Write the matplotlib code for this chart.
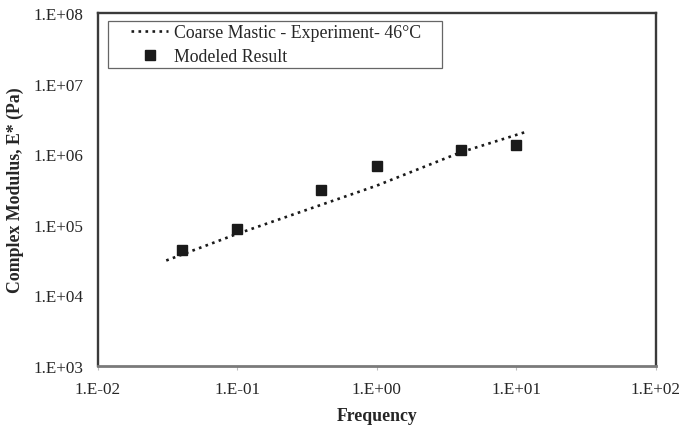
import matplotlib
matplotlib.use("Agg")
import matplotlib.pyplot as plt
from matplotlib.ticker import FixedLocator, NullLocator
from matplotlib.patches import Rectangle

# Experimental curve (dotted) and modeled points
exp_freq = [0.031, 0.1, 1.0, 4.0, 11.9]
exp_modulus = [3.1e4, 7.4e4, 3.57e5, 1.06e6, 2.08e6]

model_freq = [0.04, 0.1, 0.4, 1.0, 4.0, 10.0]
model_modulus = [4.3e4, 8.7e4, 3.1e5, 6.8e5, 1.15e6, 1.36e6]

x_ticks = [1e-2, 1e-1, 1e0, 1e1, 1e2]
x_tick_labels = ["1.E-02", "1.E-01", "1.E+00", "1.E+01", "1.E+02"]
y_ticks = [1e3, 1e4, 1e5, 1e6, 1e7, 1e8]
y_tick_labels = ["1.E+03", "1.E+04", "1.E+05", "1.E+06", "1.E+07", "1.E+08"]

plt.rcParams["font.family"] = ["Liberation Serif", "DejaVu Serif"]

W, H = 683, 431
fig = plt.figure(figsize=(W / 100, H / 100), dpi=100)
ax = fig.add_axes([97.7 / W, 1 - 366.7 / H, (655.7 - 97.7) / W, (366.7 - 14) / H])

ax.plot(exp_freq, exp_modulus, linestyle=":", color="#1a1a1a", linewidth=1.9,
        label="Coarse Mastic - Experiment- 46\u00b0C")
ax.plot(model_freq, model_modulus, linestyle="none", marker="s", markersize=6.5,
        color="#1a1a1a", label="Modeled Result")

ax.set_xscale("log")
ax.set_yscale("log")
ax.set_xlim(1e-2, 1e2)
ax.set_ylim(1e3, 1e8)

ax.xaxis.set_major_locator(FixedLocator(x_ticks))
ax.xaxis.set_minor_locator(NullLocator())
ax.set_xticklabels(x_tick_labels)
ax.yaxis.set_major_locator(FixedLocator(y_ticks))
ax.yaxis.set_minor_locator(NullLocator())
ax.set_yticklabels(y_tick_labels)

ax.tick_params(axis="both", which="major", labelsize=12.3, labelcolor="#262626",
               direction="out")
ax.tick_params(axis="x", length=3, width=0.8, color="#bbbbbb", pad=8)
ax.tick_params(axis="y", length=0, pad=10)

for name, sp in ax.spines.items():
    sp.set_color("#3a3a3a")
    sp.set_linewidth(1.7)
ax.spines["bottom"].set_color("#7a7a7a")
ax.spines["bottom"].set_linewidth(2.0)

ax.set_xlabel("Frequency", fontsize=12.8, fontweight="bold", color="#262626", labelpad=7)
ax.set_ylabel("Complex Modulus, E* (Pa)", fontsize=12.8, fontweight="bold",
              color="#262626", labelpad=7)

# Legend entries without their own frame; the box is drawn separately
leg = ax.legend(loc="upper left", bbox_to_anchor=(131 / W, 1 - 25.5 / H),
                bbox_transform=fig.transFigure, fontsize=12.8, frameon=False,
                handlelength=2.1, handletextpad=0.3, borderpad=0.0,
                labelspacing=0.38, borderaxespad=0.0)
for t in leg.get_texts():
    t.set_color("#262626")

fig.patches.append(Rectangle((108 / W, 1 - 69.3 / H), (442 - 108) / W, (69.3 - 21.7) / H,
                             transform=fig.transFigure, fill=False,
                             edgecolor="#666666", linewidth=0.9))

fig.savefig("out.png", dpi=100)
